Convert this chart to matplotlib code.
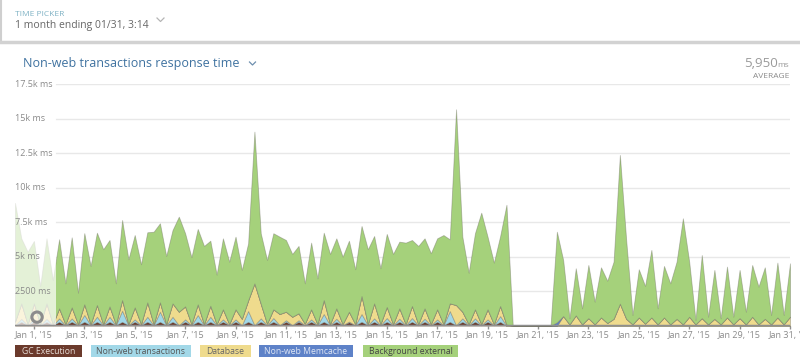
import matplotlib
matplotlib.use("Agg")
import matplotlib.pyplot as plt
import matplotlib.dates as mdates
import numpy as np
import pandas as pd
from matplotlib.patches import Rectangle
from matplotlib.lines import Line2D
import matplotlib.transforms as mtransforms

plt.rcParams['font.family'] = ['Open Sans', 'DejaVu Sans']

# ---------------- data (6-hour buckets, Dec 31 06:00 -> Jan 31 00:00) ----------------
times = pd.date_range("2014-12-31 06:00", periods=124, freq="6h")

gc_execution = [40, 280] * 39 + [0] * 46
gc_execution[53] = 250

nonweb_transactions = [
    0, 220, 0, 220, 0, 220, 0, 250, 0, 250, 0, 500, 0, 370, 0, 370, 0, 810, 0, 180,
    0, 370, 0, 735, 0, 370, 0, 180, 0, 495, 0, 370, 0, 180, 0, 180, 0, 785, 0, 255,
    0, 280, 0, 120, 0, 120, 0, 180, 0, 570, 0, 230, 0, 50, 0, 570, 0, 255, 0, 280,
    0, 230, 0, 280, 0, 230, 0, 180, 0, 785, 0, 255, 0, 255, 0, 180, 0, 420, 0, 0,
] + [0] * 44

database = [
    260, 1120, 80, 1120, 80, 1120, 80, 730, 80, 800, 80, 775, 80, 850, 80, 750, 80, 770, 80, 870,
    80, 1045, 80, 680, 80, 970, 975, 940, 80, 775, 80, 800, 80, 730, 80, 730, 460, 775, 3030, 1065,
    110, 630, 810, 615, 610, 500, 110, 730, 80, 1010, 80, 750, 80, 715, 80, 1305, 80, 1085, 80, 800,
    80, 750, 80, 870, 80, 750, 80, 730, 80, 555, 1460, 480, 80, 655, 80, 730, 80, 730, 80, 0,
    0, 0, 0, 0, 0, 0, 0, 700, 100, 750, 100, 550, 100, 600, 200, 500, 1600, 500, 100, 600,
    150, 600, 100, 600, 100, 500, 100, 650, 100, 550, 100, 500, 100, 600, 100, 550, 100, 650, 100, 500,
    100, 600, 100, 650,
]

nonweb_memcache = [0] * 124
nonweb_memcache[86] = 250

background_external = [
    8600, 4710, 5240, 4520, 2760, 4710, 3190, 5000, 2950, 5070, 2270, 5150, 4210, 5240, 5420, 4810, 2950, 5800, 4690, 5240,
    4330, 5075, 6690, 5725, 4930, 5310, 6885, 5300, 4840, 5460, 5660, 4710, 3580, 5140, 4520, 5260, 3540, 4130, 10990, 5100,
    4610, 5510, 5600, 5195, 4550, 4880, 2920, 4830, 3310, 4880, 5080, 5070, 4880, 5145, 3970, 5070, 5420, 4880, 4040, 5290,
    5080, 4830, 5900, 4780, 5660, 5070, 5130, 5140, 6450, 4640, 14180, 5435, 3720, 5510, 8070, 5260, 4450, 5070, 8680, 0,
    0, 0, 0, 0, 0, 0, 6560, 4060, 435, 3410, 1160, 3850, 1640, 3630, 3060, 4140, 10770, 5710, 675, 3490,
    2730, 4890, 1160, 3730, 2970, 4140, 7680, 3990, 310, 4570, 550, 3540, 440, 3680, 550, 3490, 910, 3750, 2730, 3730,
    675, 3970, 675, 3870,
]

series_names = ["GC Execution", "Non-web transactions", "Database", "Non-web Memcache", "Background external"]
series_colors = ["#6b3a2c", "#a2d8e8", "#efdb8d", "#5e82c8", "#a5d17b"]
legend_text_colors = ["#e6dcd6", "#555555", "#666666", "#dfe6f4", "#444444"]

y_ticks = [2500, 5000, 7500, 10000, 12500, 15000, 17500]
y_tick_labels = ["2500 ms", "5k ms", "7.5k ms", "10k ms", "12.5k ms", "15k ms", "17.5k ms"]
x_tick_dates = pd.date_range("2015-01-01", "2015-01-31", freq="2D")
x_tick_labels = [f"Jan {d.day}, '15" for d in x_tick_dates]

# ---------------- figure ----------------
W, H = 800, 362
fig = plt.figure(figsize=(W / 100, H / 100), dpi=100)

def fx(x):
    return x / W

def fy(y):
    return 1 - y / H

ax = fig.add_axes([fx(15), fy(325.7), 775 / W, (325.7 - 84.2) / H])

t = mdates.date2num(times.to_pydatetime())
ax.stackplot(t, gc_execution, nonweb_transactions, database, nonweb_memcache, background_external,
             colors=series_colors, edgecolor=(0.45, 0.45, 0.4, 0.45), linewidth=0.6, zorder=2)

ax.set_xlim(t[0], t[-1])
ax.set_ylim(0, 17500)

# grid lines (start after label area)
for yv in y_ticks:
    ax.axhline(yv, xmin=(56 - 15) / 775, xmax=1, color="#e8e8e8", lw=1, zorder=0)

# faded overlay at start
fade_end = mdates.date2num(pd.Timestamp("2015-01-01 21:00").to_pydatetime())
ax.axvspan(t[0], fade_end, color="white", alpha=0.7, lw=0, zorder=3)

# baseline
ax.axhline(0, color="#8f8f8f", lw=2.5, zorder=4)

# marker ring
ring_t = mdates.date2num(pd.Timestamp("2015-01-01 03:00").to_pydatetime())
ax.scatter([ring_t], [620], s=55, facecolors="none", edgecolors="#8c8c8c", linewidths=2.2, zorder=6)

for s in ax.spines.values():
    s.set_visible(False)
ax.set_yticks([])
ax.set_xticks(mdates.date2num(x_tick_dates.to_pydatetime()))
ax.set_xticklabels(x_tick_labels, fontsize=6.5, color="#8a8a8a")
ax.tick_params(axis="x", length=2, width=1, color="#8f8f8f", pad=1.5)

trans = mtransforms.blended_transform_factory(ax.transAxes, ax.transData)
for yv, lab in zip(y_ticks, y_tick_labels):
    ax.text(0, yv, lab, transform=trans, ha="left", va="center", fontsize=6.5, color="#8a8a8a", zorder=7)

# ---------------- header ----------------
fig.add_artist(Line2D([fx(0.5), fx(0.5)], [fy(0), fy(42)], color="#cfcfcf", lw=1.5))
fig.add_artist(Line2D([0, 1], [fy(42), fy(42)], color="#d2d2d2", lw=2.5))
fig.text(fx(15), fy(14.5), "TIME PICKER", fontsize=6, color="#7fb2c4", ha="left", va="center")
fig.text(fx(15), fy(25.5), "1 month ending 01/31, 3:14", fontsize=7.5, color="#666666", ha="left", va="center")
fig.add_artist(Line2D([fx(157), fx(160.5), fx(164)], [fy(18), fy(21.5), fy(18)], color="#b5b5b5", lw=0.9))

fig.text(fx(23), fy(63), "Non-web transactions response time", fontsize=9, color="#3f72a0",
         ha="left", va="center")
fig.add_artist(Line2D([fx(249.5), fx(252.5), fx(255.5)], [fy(62), fy(65), fy(62)], color="#6d8fae", lw=0.9))

fig.text(fx(778), fy(67), "5,950", fontsize=9.5, color="#9a9a9a", ha="right", va="baseline")
fig.text(fx(789.5), fy(67), "ms", fontsize=6, color="#9a9a9a", ha="right", va="baseline")
fig.text(fx(789.5), fy(76.5), "AVERAGE", fontsize=6, color="#8a8a8a", ha="right", va="center")

# ---------------- legend ----------------
legend_boxes = [(15, 82), (91, 191), (200, 251), (259, 353), (363, 458)]
for (x0, x1), name, col, tcol in zip(legend_boxes, series_names, series_colors, legend_text_colors):
    fig.add_artist(Rectangle((fx(x0), fy(357)), (x1 - x0) / W, 12 / H, transform=fig.transFigure,
                             facecolor=col, edgecolor="none"))
    fig.text(fx((x0 + x1) / 2), fy(351), name, fontsize=6.2, color=tcol, ha="center", va="center")

fig.savefig("out.png", dpi=100)
